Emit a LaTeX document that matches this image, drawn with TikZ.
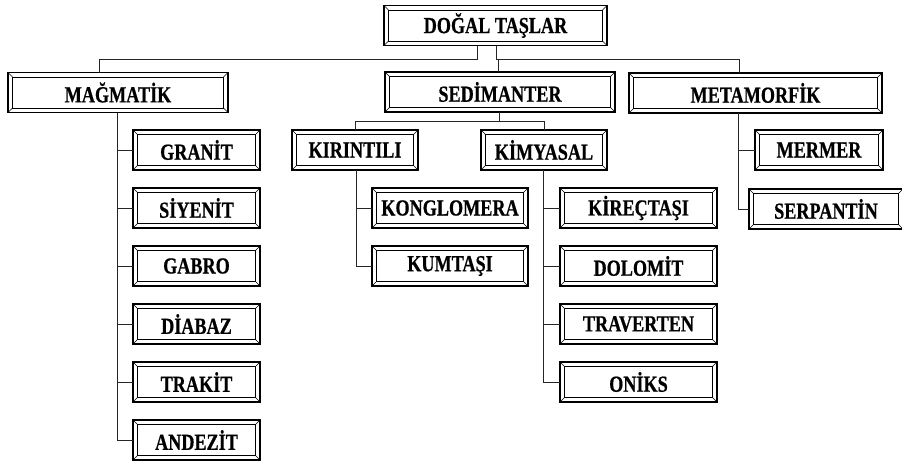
\documentclass[tikz,border=0pt]{standalone}
\usepackage{fontspec}
\setmainfont{Liberation Serif}[FakeStretch=0.79, FakeBold=0.6]
\usepackage{tikz}
\usetikzlibrary{positioning}
\tikzstyle{tas} = [rectangle, draw=black, line width=1.4pt, minimum height=40pt, inner sep=0pt, outer sep=0pt, text centered, font=\fontsize{23}{25}\selectfont\bfseries,
  path picture={
    \draw[line width=0.6pt] ([shift={(4.5pt,-4.5pt)}]path picture bounding box.north west) rectangle ([shift={(-4.5pt,4.5pt)}]path picture bounding box.south east);
    \draw[line width=0.5pt] (path picture bounding box.north west) -- ++(4.5pt,-4.5pt);
    \draw[line width=0.5pt] (path picture bounding box.north east) -- ++(-4.5pt,-4.5pt);
    \draw[line width=0.5pt] (path picture bounding box.south west) -- ++(4.5pt,4.5pt);
    \draw[line width=0.5pt] (path picture bounding box.south east) -- ++(-4.5pt,4.5pt);
  }]
\tikzstyle{line} = [draw, line width=0.9pt, black!85]

\begin{document}
\begin{tikzpicture}[x=1pt, y=-1pt, node distance=18pt]
    \useasboundingbox (0,0) rectangle (902,463);
    % Nodes
    \node [tas, minimum width=223pt] (root) at (495.5,25.5) {DOĞAL TAŞLAR};
    \node [tas, minimum width=220pt] (magmatik) at (118,92.5) {MAĞMATİK};
    \node [tas, minimum width=230pt] (sedimanter) at (500,92) {SEDİMANTER};
    \node [tas, minimum width=253pt] (metamorfik) at (755.5,93) {METAMORFİK};

    \node [tas, minimum width=127pt] (granit) at (196.5,150) {GRANİT};
    \node [tas, minimum width=127pt, below=of granit] (siyenit) {SİYENİT};
    \node [tas, minimum width=127pt, below=of siyenit] (gabro) {GABRO};
    \node [tas, minimum width=127pt, below=of gabro] (diabaz) {DİABAZ};
    \node [tas, minimum width=127pt, below=of diabaz] (trakit) {TRAKİT};
    \node [tas, minimum width=127pt, below=of trakit] (andezit) {ANDEZİT};

    \node [tas, minimum width=126pt] (kirintili) at (355,150) {KIRINTILI};
    \node [tas, minimum width=126pt] (kimyasal) at (544,150) {KİMYASAL};
    \node [tas, minimum width=156pt] (konglomera) at (450,208) {KONGLOMERA};
    \node [tas, minimum width=156pt, below=of konglomera] (kumtasi) {KUMTAŞI};

    \node [tas, minimum width=157pt] (kirectasi) at (638.5,208) {KİREÇTAŞI};
    \node [tas, minimum width=157pt, below=of kirectasi] (dolomit) {DOLOMİT};
    \node [tas, minimum width=157pt, below=of dolomit] (traverten) {TRAVERTEN};
    \node [tas, minimum width=157pt, below=of traverten] (oniks) {ONİKS};

    \node [tas, minimum width=128pt] (mermer) at (819,150) {MERMER};
    \node [tas, minimum width=154pt] (serpantin) at (826,209) {SERPANTİN};

    % Edges
    \coordinate (tepe) at ([yshift=-14pt]root.south);
    \path [line] ([xshift=-18.5pt]root.south) -- ++(0,14) -| ([xshift=-19pt]magmatik.north);
    \path [line] ([xshift=0.5pt]root.south) -- ++(0,14) -| ([xshift=-16.5pt]metamorfik.north);
    \path [line] ([xshift=-2pt]sedimanter.north) -- ([xshift=-2pt]sedimanter.north |- tepe);
    \path [line] ([xshift=-1pt]sedimanter.south) -- ++(0,9) -| (kirintili.north);
    \path [line] ([xshift=-1pt]sedimanter.south) -- ++(0,9) -| (kimyasal.north);
    \foreach \n in {granit,siyenit,gabro,diabaz,trakit,andezit}
        \path [line] ([xshift=-1pt]magmatik.south) |- (\n.west);
    \foreach \n in {konglomera,kumtasi}
        \path [line] ([xshift=1pt]kirintili.south) |- (\n.west);
    \foreach \n in {kirectasi,dolomit,traverten,oniks}
        \path [line] ([xshift=-1pt]kimyasal.south) |- (\n.west);
    \foreach \n in {mermer,serpantin}
        \path [line] ([xshift=-17.5pt]metamorfik.south) |- (\n.west);
\end{tikzpicture}
\end{document}
